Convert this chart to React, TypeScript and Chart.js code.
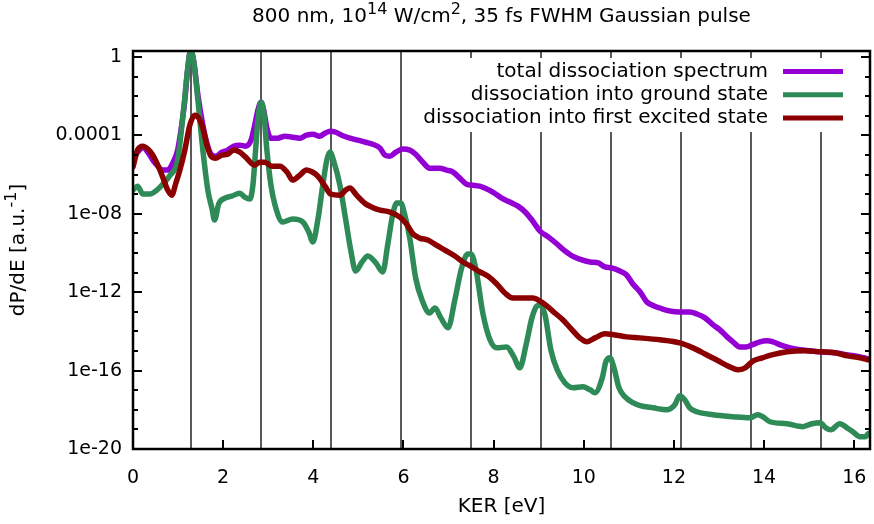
import React, { useEffect, useRef } from "react";
import { Chart, registerables } from "chart.js";

Chart.register(...registerables);

// ---------- data (KER in eV, values as log10 of dP/dE) ----------
const totalKER = [0.00,0.10,0.22,0.33,0.44,0.55,0.66,0.77,0.88,0.99,1.08,1.15,1.21,1.28,1.35,1.44,1.55,1.64,1.73,1.84,1.97,2.10,2.23,2.37,2.50,2.62,2.70,2.77,2.84,2.90,2.97,3.06,3.21,3.37,3.54,3.70,3.85,3.99,4.14,4.26,4.37,4.50,4.63,4.81,4.99,5.16,5.32,5.48,5.59,5.70,5.83,5.98,6.14,6.27,6.43,6.58,6.80,6.96,7.10,7.25,7.40,7.54,7.69,7.85,7.98,8.18,8.36,8.54,8.70,8.85,9.03,9.21,9.38,9.56,9.74,9.91,10.14,10.32,10.47,10.62,10.80,10.95,11.09,11.25,11.40,11.56,11.74,11.91,12.13,12.35,12.51,12.69,12.87,13.02,13.18,13.31,13.46,13.60,13.73,13.91,14.06,14.20,14.36,14.58,14.80,15.02,15.24,15.57,15.86,16.13,16.31];
const totalLog = [-5.11,-4.86,-4.60,-4.86,-5.26,-5.57,-5.77,-5.77,-5.42,-4.75,-3.48,-2.21,-0.68,0.34,-0.27,-1.95,-3.48,-4.40,-4.96,-5.06,-4.86,-4.75,-4.55,-4.50,-4.55,-4.24,-3.48,-2.72,-2.31,-2.72,-3.63,-4.14,-4.14,-4.04,-4.09,-4.14,-3.99,-3.94,-4.04,-3.89,-3.79,-3.84,-3.99,-4.14,-4.24,-4.35,-4.45,-4.65,-5.01,-5.06,-4.86,-4.70,-4.75,-4.96,-5.37,-5.67,-5.67,-5.77,-5.87,-6.18,-6.49,-6.54,-6.59,-6.74,-6.89,-7.20,-7.40,-7.61,-7.91,-8.32,-8.88,-9.18,-9.49,-9.85,-10.15,-10.31,-10.46,-10.51,-10.71,-10.76,-10.92,-11.12,-11.58,-11.99,-12.50,-12.70,-12.85,-12.96,-13.01,-13.01,-13.11,-13.31,-13.67,-13.92,-14.28,-14.53,-14.79,-14.79,-14.69,-14.53,-14.48,-14.53,-14.69,-14.84,-14.94,-14.99,-15.04,-15.09,-15.20,-15.30,-15.40];

const groundKER = [0.00,0.10,0.22,0.37,0.53,0.66,0.81,0.99,1.12,1.21,1.28,1.35,1.44,1.55,1.66,1.75,1.81,1.90,2.04,2.19,2.37,2.48,2.59,2.66,2.72,2.77,2.84,2.90,2.97,3.06,3.15,3.32,3.54,3.77,3.90,3.99,4.10,4.21,4.30,4.37,4.46,4.59,4.72,4.83,4.94,5.08,5.21,5.39,5.54,5.65,5.76,5.85,5.94,6.03,6.14,6.27,6.41,6.58,6.70,6.83,6.99,7.14,7.29,7.43,7.50,7.61,7.76,7.92,8.07,8.29,8.45,8.58,8.72,8.85,8.96,9.03,9.14,9.27,9.41,9.58,9.76,9.98,10.14,10.25,10.41,10.49,10.58,10.67,10.78,10.91,11.09,11.25,11.54,11.84,12.02,12.13,12.24,12.35,12.51,12.87,13.31,13.68,13.86,13.97,14.13,14.51,14.86,15.06,15.24,15.37,15.48,15.68,15.84,15.97,16.13,16.24,16.31];
const groundLog = [-6.79,-6.59,-6.99,-6.99,-6.79,-6.49,-6.07,-5.26,-2.72,-0.68,0.34,-0.27,-2.21,-4.75,-6.79,-7.71,-8.32,-7.50,-7.20,-7.10,-6.95,-7.15,-7.25,-6.54,-4.75,-3.22,-2.31,-2.82,-4.75,-6.54,-7.55,-8.42,-8.27,-8.42,-8.93,-9.44,-8.32,-6.54,-5.26,-4.85,-5.37,-6.54,-8.32,-9.85,-10.92,-10.46,-10.15,-10.51,-10.97,-9.59,-8.06,-7.45,-7.45,-8.06,-9.24,-11.27,-12.39,-13.06,-12.80,-13.31,-13.82,-12.39,-10.76,-10.05,-10.05,-10.87,-13.06,-14.43,-14.84,-14.79,-15.30,-15.86,-14.69,-13.31,-12.70,-12.65,-13.16,-14.94,-15.96,-16.62,-16.87,-16.82,-16.98,-17.13,-16.37,-15.55,-15.35,-15.86,-16.87,-17.33,-17.64,-17.79,-17.90,-18.00,-17.74,-17.28,-17.49,-17.90,-18.10,-18.25,-18.35,-18.41,-18.25,-18.35,-18.61,-18.71,-18.86,-18.71,-18.66,-18.92,-19.02,-18.71,-18.92,-19.12,-19.38,-19.38,-19.22];

const excitedKER = [0.00,0.10,0.22,0.33,0.44,0.55,0.66,0.77,0.86,0.95,1.04,1.15,1.26,1.37,1.46,1.55,1.64,1.73,1.84,1.97,2.10,2.23,2.37,2.50,2.70,2.81,2.92,3.08,3.26,3.42,3.54,3.70,3.85,3.99,4.10,4.26,4.39,4.59,4.72,4.81,4.96,5.14,5.30,5.48,5.70,5.92,6.07,6.21,6.36,6.54,6.72,6.92,7.14,7.32,7.48,7.70,7.87,8.07,8.25,8.43,8.63,8.87,9.03,9.18,9.36,9.54,9.74,9.91,10.07,10.25,10.47,10.69,10.95,11.24,11.69,12.13,12.42,12.69,12.98,13.24,13.42,13.58,13.76,13.96,14.17,14.51,14.91,15.24,15.57,15.86,16.13,16.31];
const excitedLog = [-5.62,-4.75,-4.55,-4.70,-5.01,-5.52,-6.13,-6.79,-7.05,-6.44,-5.77,-4.75,-3.48,-2.97,-3.12,-3.63,-4.50,-5.06,-5.16,-5.01,-4.96,-4.75,-4.85,-5.11,-5.52,-5.37,-5.37,-5.57,-5.57,-5.88,-6.28,-6.03,-5.77,-5.88,-6.08,-6.59,-7.00,-7.05,-6.79,-6.68,-7.05,-7.46,-7.66,-7.81,-7.91,-8.17,-8.53,-9.03,-9.24,-9.34,-9.59,-9.85,-10.15,-10.46,-10.66,-10.97,-11.17,-11.58,-12.04,-12.30,-12.30,-12.30,-12.45,-12.70,-13.06,-13.42,-13.92,-14.33,-14.53,-14.33,-14.12,-14.18,-14.28,-14.33,-14.43,-14.59,-14.84,-15.15,-15.50,-15.81,-15.96,-15.86,-15.50,-15.35,-15.20,-15.04,-14.99,-15.04,-15.09,-15.25,-15.35,-15.45];

// photon-energy markers (multiples of 1.55 eV)
const photonLines = [1.28, 2.83, 4.39, 5.94, 7.50, 9.05, 10.60, 12.16, 13.71, 15.27];

const xTickValues = [0, 2, 4, 6, 8, 10, 12, 14, 16];
const yTickValues = [1, 1e-4, 1e-8, 1e-12, 1e-16, 1e-20];
const yTickLabels = ["1", "0.0001", "1e-08", "1e-12", "1e-16", "1e-20"];

const seriesNames = [
  "total dissociation spectrum",
  "dissociation into ground state",
  "dissociation into first excited state",
];
const seriesColors = ["#9400d3", "#2e8b57", "#8b0000"];

const FONT = "'DejaVu Sans', sans-serif";

type Part = { t: string; sup?: boolean };
const titleParts: Part[] = [
  { t: "800 nm, 10" }, { t: "14", sup: true }, { t: " W/cm" }, { t: "2", sup: true },
  { t: ", 35 fs FWHM Gaussian pulse" },
];
const yLabelParts: Part[] = [{ t: "dP/dE [a.u." }, { t: "-1", sup: true }, { t: "]" }];
const xLabelText = "KER [eV]";

function toPoints(xs: number[], ls: number[]) {
  return xs.map((x, i) => ({ x, y: Math.pow(10, ls[i]) }));
}

function drawRich(ctx: CanvasRenderingContext2D, parts: Part[], cx: number, cy: number, size: number) {
  const widths = parts.map((p) => {
    ctx.font = `${p.sup ? size * 0.8 : size}px ${FONT}`;
    return ctx.measureText(p.t).width;
  });
  const total = widths.reduce((a, b) => a + b, 0);
  let x = cx - total / 2;
  ctx.textAlign = "left";
  ctx.textBaseline = "middle";
  parts.forEach((p, i) => {
    ctx.font = `${p.sup ? size * 0.8 : size}px ${FONT}`;
    ctx.fillText(p.t, x, p.sup ? cy - size * 0.38 : cy);
    x += widths[i];
  });
}

const decorations = {
  id: "decorations",
  beforeDatasetsDraw(chart: any) {
    const { ctx, chartArea: a, scales } = chart;
    ctx.save();
    ctx.strokeStyle = "#5a5a5a";
    ctx.lineWidth = 2;
    photonLines.forEach((v) => {
      const px = Math.round(scales.x.getPixelForValue(v));
      ctx.beginPath();
      ctx.moveTo(px, a.top);
      ctx.lineTo(px, a.bottom);
      ctx.stroke();
    });
    ctx.restore();
  },
  afterDatasetsDraw(chart: any) {
    const { ctx, chartArea: a, scales } = chart;
    ctx.save();
    // legend box (opaque)
    const boxL = 412, boxR = 856, boxT = 58, boxB = 132;
    ctx.fillStyle = "#ffffff";
    ctx.fillRect(boxL, boxT, boxR - boxL, boxB - boxT);
    ctx.font = `20px ${FONT}`;
    ctx.textAlign = "right";
    ctx.textBaseline = "middle";
    seriesNames.forEach((name, i) => {
      const y = 71.5 + i * 23.3;
      ctx.fillStyle = "#000";
      ctx.fillText(name, 768, y);
      ctx.strokeStyle = seriesColors[i];
      ctx.lineWidth = 5;
      ctx.beginPath();
      ctx.moveTo(783, y);
      ctx.lineTo(843, y);
      ctx.stroke();
    });

    // border
    ctx.strokeStyle = "#000";
    ctx.lineWidth = 2.5;
    ctx.strokeRect(a.left, a.top, a.right - a.left, a.bottom - a.top);

    // ticks
    ctx.lineWidth = 2;
    for (let e = -20; e <= 0; e++) {
      const py = Math.round(scales.y.getPixelForValue(Math.pow(10, e)));
      const len = e % 4 === 0 ? 9 : 5;
      ctx.beginPath();
      ctx.moveTo(a.left, py);
      ctx.lineTo(a.left + len, py);
      ctx.moveTo(a.right, py);
      ctx.lineTo(a.right - len, py);
      ctx.stroke();
    }
    xTickValues.forEach((v) => {
      const px = Math.round(scales.x.getPixelForValue(v));
      ctx.beginPath();
      ctx.moveTo(px, a.bottom);
      ctx.lineTo(px, a.bottom - 9);
      ctx.stroke();
    });

    // title & axis labels
    ctx.fillStyle = "#000";
    const cx = (a.left + a.right) / 2;
    drawRich(ctx, titleParts, cx, 17, 20);
    ctx.font = `20px ${FONT}`;
    ctx.textAlign = "center";
    ctx.textBaseline = "middle";
    ctx.fillText(xLabelText, cx, 507);
    ctx.save();
    ctx.translate(19, (a.top + a.bottom) / 2);
    ctx.rotate(-Math.PI / 2);
    drawRich(ctx, yLabelParts, 0, 0, 20);
    ctx.restore();
    ctx.restore();
  },
};

export default function App() {
  const ref = useRef<HTMLCanvasElement | null>(null);
  useEffect(() => {
    if (!ref.current) return;
    const common = {
      fill: false,
      pointRadius: 0,
      borderWidth: 5.5,
      borderJoinStyle: "round" as const,
      borderCapStyle: "round" as const,
      cubicInterpolationMode: "monotone" as const,
    };
    const chart = new Chart(ref.current, {
      type: "line",
      data: {
        datasets: [
          { ...common, label: seriesNames[0], data: toPoints(totalKER, totalLog), borderColor: seriesColors[0], order: 3 },
          { ...common, label: seriesNames[1], data: toPoints(groundKER, groundLog), borderColor: seriesColors[1], order: 2 },
          { ...common, label: seriesNames[2], data: toPoints(excitedKER, excitedLog), borderColor: seriesColors[2], order: 1 },
        ],
      },
      options: {
        animation: false,
        responsive: false,
        parsing: false as any,
        layout: { padding: { left: 0, right: 4, top: 51, bottom: 0 } },
        plugins: { legend: { display: false }, title: { display: false }, tooltip: { enabled: false } },
        scales: {
          x: {
            type: "linear",
            min: 0,
            max: 16.35,
            grid: { display: false, drawTicks: false },
            border: { display: false },
            ticks: { font: { family: FONT, size: 19 }, color: "#000", padding: 18, autoSkip: false, maxRotation: 0 },
            afterBuildTicks: (s: any) => { s.ticks = xTickValues.map((v) => ({ value: v })); },
            afterFit: (s: any) => { s.height = 75; s.paddingLeft = 0; s.paddingRight = 0; },
          },
          y: {
            type: "logarithmic",
            min: 1e-20,
            max: Math.pow(10, 0.306),
            grid: { display: false, drawTicks: false },
            border: { display: false },
            ticks: {
              font: { family: FONT, size: 19 },
              color: "#000",
              padding: 11,
              autoSkip: false,
              callback: (v: any) => {
                const idx = yTickValues.findIndex((t) => Math.abs(Math.log10(t) - Math.log10(Number(v))) < 1e-6);
                return idx >= 0 ? yTickLabels[idx] : "";
              },
            },
            afterBuildTicks: (s: any) => { s.ticks = yTickValues.map((v) => ({ value: v })); },
            afterFit: (s: any) => { s.width = 133; s.paddingTop = 0; s.paddingBottom = 0; },
          },
        },
      },
      plugins: [decorations],
    });
    return () => chart.destroy();
  }, []);
  return (
    <div style={{ position: "absolute", left: 0, top: 0, width: 874, height: 524, background: "#fff" }}>
      <canvas ref={ref} width={874} height={524} />
    </div>
  );
}
